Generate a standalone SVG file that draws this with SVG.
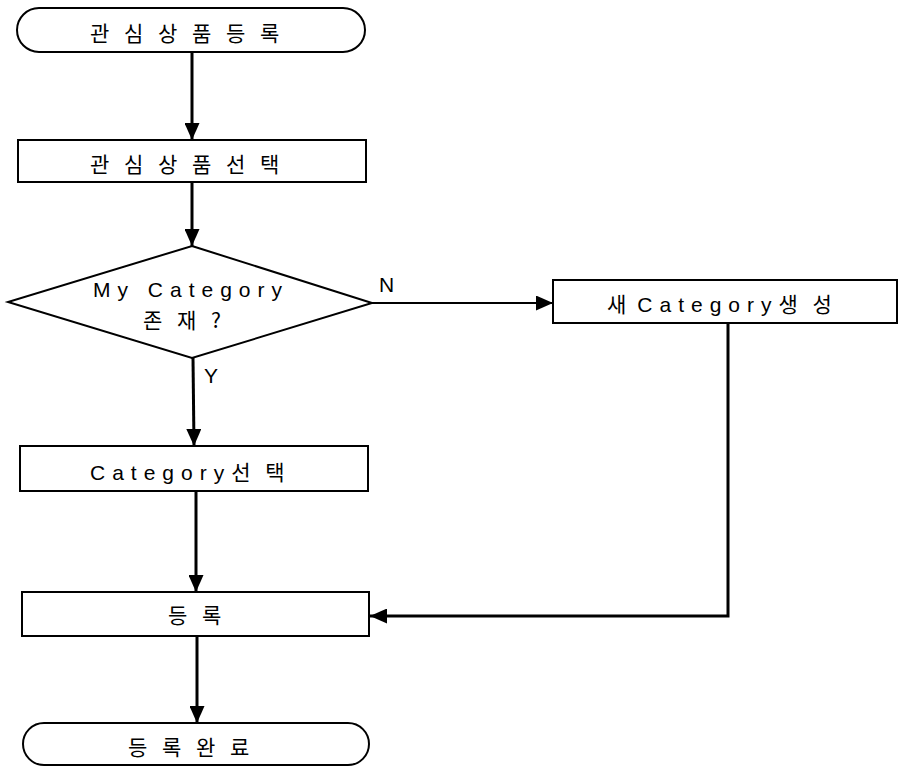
<svg xmlns="http://www.w3.org/2000/svg" width="899" height="767" viewBox="0 0 899 767">
<style>
.shape{fill:#fff;stroke:#000;stroke-width:2}
.t{font-family:"Noto Sans CJK KR","Liberation Sans",sans-serif;font-size:21px;fill:#000;letter-spacing:5px}
.lat{font-family:"Liberation Sans","Noto Sans CJK KR",sans-serif;font-size:21px;fill:#000;letter-spacing:7px}
.conn{fill:none;stroke:#000;stroke-width:3}
.thin{fill:none;stroke:#000;stroke-width:2}
</style>
<defs>
<marker id="ah" markerWidth="17" markerHeight="15" refX="17" refY="7.5" orient="auto" markerUnits="userSpaceOnUse">
<path d="M0,0 L17,7.5 L0,15 Z" fill="#000"/>
</marker>
</defs>
<rect width="899" height="767" fill="#fff"/>
<g id="connectors">
<line class="conn" x1="192" y1="52" x2="192" y2="140" marker-end="url(#ah)"/>
<line class="conn" x1="192" y1="182" x2="192" y2="246" marker-end="url(#ah)"/>
<line class="thin" x1="372" y1="303" x2="553" y2="303" marker-end="url(#ah)"/>
<line class="conn" x1="193" y1="358" x2="194" y2="446" marker-end="url(#ah)"/>
<line class="conn" x1="196" y1="491" x2="196" y2="592" marker-end="url(#ah)"/>
<polyline class="conn" points="728,323 728,616 370,616" marker-end="url(#ah)"/>
<line class="conn" x1="197" y1="636" x2="197" y2="723" marker-end="url(#ah)"/>
</g>
<g id="start">
<rect class="shape" x="17" y="8" width="348" height="44" rx="22" ry="22"/>
<text class="t" x="90" y="41">관 심 상 품 등 록</text>
</g>
<g id="select-product">
<rect class="shape" x="18" y="140" width="348" height="42"/>
<text class="t" x="90" y="172">관 심 상 품 선 택</text>
</g>
<g id="decision">
<polygon class="shape" points="192,246 372,303 192,358 8,302"/>
<text class="lat" x="93" y="297">My Category</text>
<text class="t" x="143" y="328">존 재 ?</text>
<text class="lat" x="379" y="292" style="letter-spacing:0">N</text>
<text class="lat" x="204" y="383" style="letter-spacing:0">Y</text>
</g>
<g id="new-category">
<rect class="shape" x="553" y="280" width="344" height="43"/>
<text class="t" x="607" y="312">새<tspan class="lat" dx="6">Category</tspan>생 성</text>
</g>
<g id="select-category">
<rect class="shape" x="20" y="446" width="348" height="45"/>
<text class="lat" x="90" y="480">Category<tspan class="t">선 택</tspan></text>
</g>
<g id="register">
<rect class="shape" x="22" y="592" width="347" height="44"/>
<text class="t" x="168" y="623">등 록</text>
</g>
<g id="end">
<rect class="shape" x="23" y="723" width="346" height="42" rx="21" ry="21"/>
<text class="t" x="128" y="755">등 록 완 료</text>
</g>
</svg>
